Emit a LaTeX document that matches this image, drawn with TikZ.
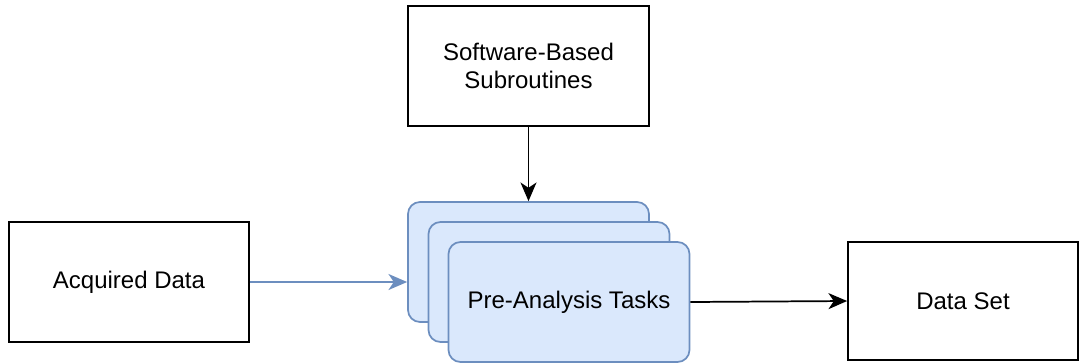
\documentclass[tikz,border=0pt]{standalone}
\usepackage{fontspec}
\setmainfont{Liberation Sans}
\usetikzlibrary{arrows.meta}
\definecolor{cardfill}{HTML}{DAE8FC}
\definecolor{cardline}{HTML}{6C8EBF}
\tikzset{
  plainbox/.style={draw=black, line width=1.3pt, fill=white, inner sep=0pt,
    font=\fontsize{18}{21.6}\selectfont, align=center},
  card/.style={draw=cardline, line width=1.3pt, fill=cardfill, rounded corners=9pt,
    inner sep=0pt, minimum width=180.75pt, minimum height=90pt,
    font=\fontsize{18}{21.6}\selectfont},
  blackarrow/.style={draw=black, line width=1.3pt, -{Stealth[length=14pt,width=12pt,inset=4pt]}},
  bluearrow/.style={draw=cardline, line width=1.3pt, -{Stealth[length=14pt,width=12pt,inset=4pt]}}
}
\begin{document}
\begin{tikzpicture}[x=0.75pt,y=-0.75pt]
\useasboundingbox (0,0) rectangle (1079,362);
\node[plainbox, minimum width=180.75pt, minimum height=90pt] (sw) at (528.5,66) {Software-Based\\Subroutines};
\node[plainbox, minimum width=180pt, minimum height=90pt] (acq) at (129,282) {Acquired Data};
\node[card] (back) at (528.5,262) {};
\node[card] (mid) at (549,282) {};
\node[card] (front) at (569,302) {Pre-Analysis Tasks};
\node[plainbox, minimum width=172.5pt, minimum height=88.5pt] (ds) at (963,301) {Data Set};
\draw[blackarrow] (sw.south) -- (back.north);
\draw[bluearrow] (acq.east) -- (acq.east -| back.west);
\draw[blackarrow] (front.east) -- (ds.west);
\end{tikzpicture}
\end{document}
